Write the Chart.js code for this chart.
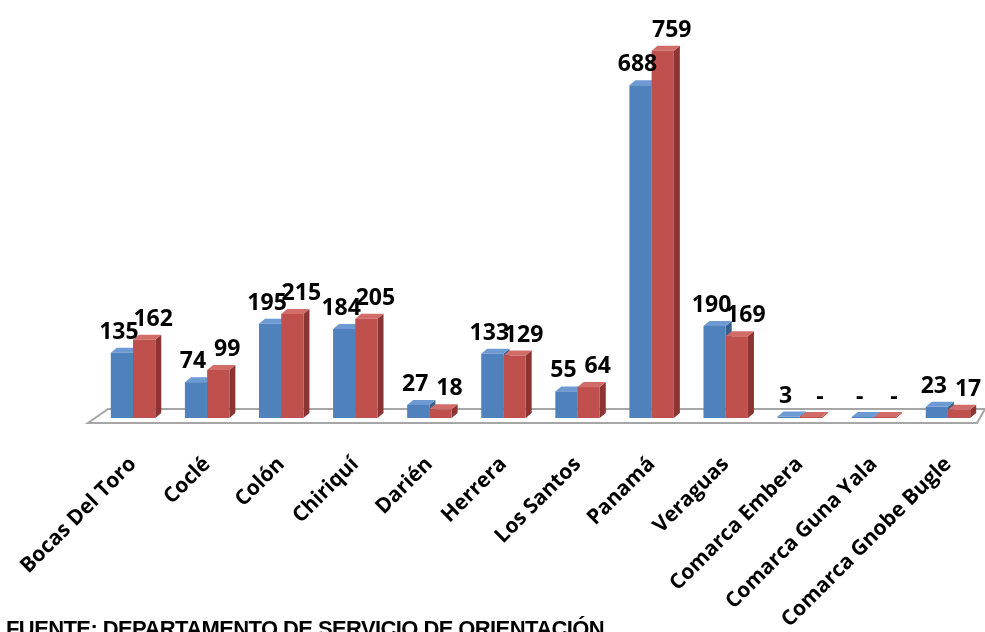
<!DOCTYPE html>
<html>
<head>
<meta charset="utf-8">
<script src="https://cdn.jsdelivr.net/npm/chart.js@4.4.1/dist/chart.umd.min.js"></script>
<style>
  html, body { margin: 0; padding: 0; background: #fff; width: 985px; height: 632px; overflow: hidden; }
  #wrap { position: relative; width: 985px; height: 632px; overflow: hidden; }
  canvas { position: absolute; left: 0; top: 0; }
  #footer { position: absolute; left: 6px; top: 616px; font-family: "Liberation Sans", Arial, sans-serif; font-weight: bold; font-size: 22px; letter-spacing: -0.6px; color: #000; white-space: nowrap; }
</style>
</head>
<body>
<div id="wrap">
  <canvas id="c" width="985" height="632"></canvas>
  <div id="footer">FUENTE: DEPARTAMENTO DE SERVICIO DE ORIENTACIÓN</div>
</div>
<script>
const categories = ['Bocas Del Toro','Coclé','Colón','Chiriquí','Darién','Herrera','Los Santos','Panamá','Veraguas','Comarca Embera','Comarca Guna Yala','Comarca Gnobe Bugle'];
const serie1 = [135, 74, 195, 184, 27, 133, 55, 688, 190, 3, 0, 23];
const serie2 = [162, 99, 215, 205, 18, 129, 64, 759, 169, 0, 0, 17];
const seriesNames = ['Serie 1', 'Serie 2'];

const DX = 6, DY = -5;
const palette = [
  { front: '#4F81BD', side: '#36618F', top: '#6E9AD3' },
  { front: '#C0504D', side: '#8C3431', top: '#D26C69' }
];

function poly(ctx, pts, fill) {
  ctx.beginPath();
  ctx.moveTo(pts[0][0], pts[0][1]);
  for (let i = 1; i < pts.length; i++) ctx.lineTo(pts[i][0], pts[i][1]);
  ctx.closePath();
  ctx.fillStyle = fill;
  ctx.fill();
}

const threeD = {
  id: 'threeD',
  beforeDatasetsDraw(chart) {
    const ctx = chart.ctx;
    const area = chart.chartArea;
    const y0 = chart.scales.y.getPixelForValue(0);
    // floor
    ctx.save();
    ctx.strokeStyle = '#A6A6A6';
    ctx.lineWidth = 2;
    ctx.beginPath();
    ctx.moveTo(area.left + 12, y0 - 9);
    ctx.lineTo(area.right, y0 - 9);
    ctx.lineTo(area.right - 8, y0 + 5);
    ctx.lineTo(area.left - 8, y0 + 5);
    ctx.closePath();
    ctx.stroke();
    ctx.restore();
    // side and top faces
    ctx.save();
    const n = chart.data.labels.length;
    for (let i = 0; i < n; i++) {
      for (let d = 0; d < chart.data.datasets.length; d++) {
        const el = chart.getDatasetMeta(d).data[i];
        const half = el.width / 2;
        const l = el.x - half, r = el.x + half;
        const t = Math.min(el.y, el.base - 1), b = el.base;
        const c = palette[d];
        poly(ctx, [[r, t], [r + DX, t + DY], [r + DX, b + DY], [r, b]], c.side);
        poly(ctx, [[l, t], [l + DX, t + DY], [r + DX, t + DY], [r, t]], c.top);
        if (el.base - el.y < 1) {
          poly(ctx, [[l, t], [r, t], [r, b], [l, b]], c.front);
        }
      }
    }
    ctx.restore();
  },
  afterDatasetsDraw(chart) {
    const ctx = chart.ctx;
    ctx.save();
    ctx.font = 'bold 23px "Open Sans", sans-serif';
    ctx.fillStyle = '#000';
    ctx.textAlign = 'center';
    ctx.textBaseline = 'alphabetic';
    chart.data.datasets.forEach((ds, d) => {
      chart.getDatasetMeta(d).data.forEach((el, i) => {
        const v = ds.data[i];
        const txt = v === 0 ? '-' : String(v);
        const shift = d === 0 ? -3 : 9;
        ctx.fillText(txt, el.x + shift, el.y - 14);
      });
    });
    ctx.restore();
  }
};

new Chart(document.getElementById('c'), {
  type: 'bar',
  data: {
    labels: categories,
    datasets: [
      { label: seriesNames[0], data: serie1, backgroundColor: palette[0].front, borderWidth: 0 },
      { label: seriesNames[1], data: serie2, backgroundColor: palette[1].front, borderWidth: 0 }
    ]
  },
  options: {
    responsive: false,
    animation: false,
    events: [],
    layout: { padding: { top: 31, left: 96, right: 0, bottom: 0 } },
    plugins: { legend: { display: false }, tooltip: { enabled: false } },
    datasets: { bar: { categoryPercentage: 0.6, barPercentage: 1.0 } },
    scales: {
      x: {
        grid: { display: false },
        border: { display: false },
        ticks: {
          autoSkip: false,
          minRotation: 45,
          maxRotation: 45,
          padding: 26,
          color: '#000',
          font: { family: '"Open Sans", sans-serif', weight: 'bold', size: 21 }
        },
        afterFit(scale) {
          scale.height = 214;
          scale.paddingLeft = 0;
          scale.paddingRight = 0;
        }
      },
      y: {
        display: false,
        min: 0,
        max: 800
      }
    }
  },
  plugins: [threeD]
});
</script>
</body>
</html>
